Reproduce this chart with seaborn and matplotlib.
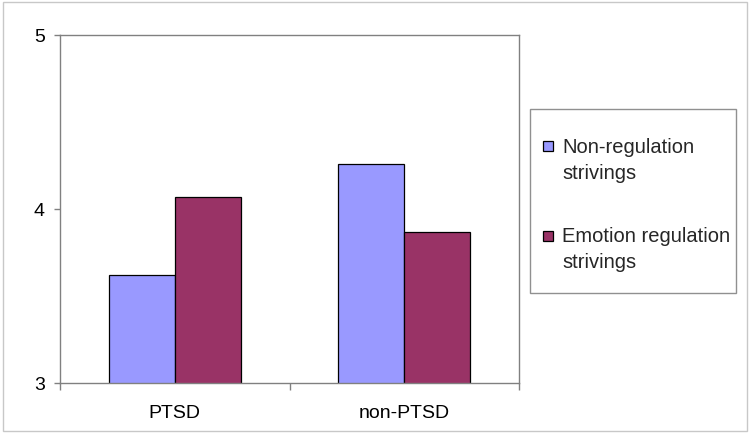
import pandas as pd
import matplotlib
matplotlib.use("Agg")
import matplotlib.pyplot as plt
import matplotlib.patches as mpatches
from matplotlib.legend_handler import HandlerPatch
import seaborn as sns

# data
groups = ["PTSD", "non-PTSD"]
series = ["Non-regulation\nstrivings", "Emotion regulation\nstrivings"]
non_regulation = [3.62, 4.26]
emotion_regulation = [4.07, 3.87]
colors = ["#9999FF", "#993366"]
yticks = [3, 4, 5]

df = pd.DataFrame({
    "group": groups * 2,
    "series": [series[0]] * len(groups) + [series[1]] * len(groups),
    "value": non_regulation + emotion_regulation,
})

sns.set_theme(style="white")
plt.rcParams["font.family"] = ["Liberation Sans", "DejaVu Sans"]

fig = plt.figure(figsize=(7.5, 4.35), dpi=100)
ax = fig.add_axes([60 / 750, 1 - 384 / 435, 459 / 750, 348 / 435])

sns.barplot(data=df, x="group", y="value", hue="series", palette=colors,
            width=0.575, edgecolor="black", linewidth=0.9, saturation=1,
            legend=False, ax=ax)

ax.set_xlim(-0.5, 1.5)
ax.set_ylim(3, 5)
ax.set_yticks(yticks)
ax.set_xlabel("")
ax.set_ylabel("")

for sp in ax.spines.values():
    sp.set_color("#808080")
    sp.set_linewidth(1.0)

ax.tick_params(axis="y", left=True, length=4, width=1, color="#808080",
               labelsize=14, labelcolor="black", pad=7)
ax.tick_params(axis="x", which="major", bottom=False, length=0,
               labelsize=14, labelcolor="black", pad=15)
ax.set_xticks([-0.5, 0.5, 1.5], minor=True)
ax.tick_params(axis="x", which="minor", bottom=True, length=5, width=1,
               color="#808080")


# legend square next to the first line of each label
def top_square(legend, orig_handle, xdescent, ydescent, width, height, fontsize):
    s = 0.5 * fontsize
    return mpatches.Rectangle((-xdescent, -ydescent + 0.7 * fontsize), s, s)


handles = [mpatches.Patch(facecolor=c, edgecolor="black", linewidth=0.9) for c in colors]
leg = fig.legend(handles, series, loc="center left",
                 bbox_to_anchor=(543 / 750, 1 - 205 / 435),
                 frameon=False, fontsize=14.5, handlelength=0.5, handleheight=0.5,
                 handletextpad=0.45, labelspacing=2.2, borderpad=0, borderaxespad=0,
                 handler_map={mpatches.Patch: HandlerPatch(patch_func=top_square)})
for t in leg.get_texts():
    t.set_linespacing(1.47)

# legend box and outer chart border
fig.add_artist(mpatches.Rectangle((530 / 750, 1 - 294 / 435), 206 / 750, 184 / 435,
                                  transform=fig.transFigure, fill=False,
                                  edgecolor="#909090", linewidth=1))
fig.add_artist(mpatches.Rectangle((2.5 / 750, 3.5 / 435), 744 / 750, 429 / 435,
                                  transform=fig.transFigure, fill=False,
                                  edgecolor="#C8C8C8", linewidth=1))

fig.savefig("out.png", dpi=100, facecolor="white")
